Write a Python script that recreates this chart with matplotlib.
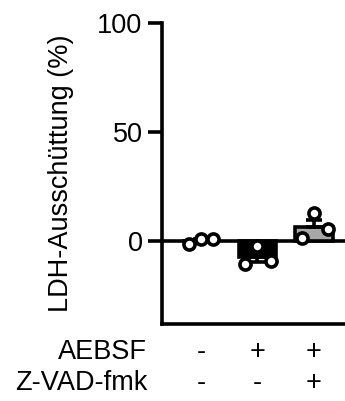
import numpy as np
import matplotlib.pyplot as plt

plt.rcParams['font.family'] = ['Liberation Sans', 'DejaVu Sans']

# data
groups = ['1', '2', '3']
aebsf = ['-', '+', '+']
zvad = ['-', '-', '+']
points = [
    [-1.4, 0.9, 0.9],
    [-10.5, -2.3, -9.0],
    [1.4, 12.7, 5.5],
]
jitter = [[-0.22, 0.0, 0.22], [-0.22, 0.0, 0.24], [-0.22, 0.0, 0.25]]
bar_colors = ['white', 'black', '#a8a8a8']

means = [np.mean(p) for p in points]
sems = [np.std(p, ddof=1) / np.sqrt(len(p)) for p in points]

fs = 19.5
lw = 2.6

fig = plt.figure(figsize=(3.45, 4.01), dpi=100)
ax = fig.add_axes([0.4696, 0.192, 0.5304, 0.7506])

x = np.arange(len(groups))
ax.bar(x, means, width=0.67, color=bar_colors, edgecolor='black', linewidth=lw, zorder=2)
for i in range(len(groups)):
    if means[i] >= 0:
        yerr = [[0], [sems[i]]]
    else:
        yerr = [[sems[i]], [0]]
    ax.errorbar(x[i], means[i], yerr=yerr, color='black', capsize=6,
                elinewidth=lw, capthick=lw, zorder=3)
    ax.plot(x[i] + np.array(jitter[i]), points[i], 'o', ms=8, mfc='white',
            mec='black', mew=2.6, zorder=4, clip_on=False)

ax.axhline(0, color='black', lw=lw, zorder=1)
ax.set_xlim(-0.69, 2.55)
ax.set_ylim(-38, 100)
ax.set_yticks([0, 50, 100])
ax.set_xticks([])
ax.spines['top'].set_visible(False)
ax.spines['right'].set_visible(False)
ax.spines['left'].set_linewidth(lw)
ax.spines['bottom'].set_linewidth(lw)
ax.tick_params(axis='y', width=lw, length=10, labelsize=fs, pad=4)
ax.set_ylabel('LDH-Ausschüttung (%)', fontsize=fs, labelpad=17)

# treatment rows below the axis
for i in range(len(groups)):
    ax.text(x[i], -51, aebsf[i], ha='center', va='center', fontsize=fs)
    ax.text(x[i], -65, zvad[i], ha='center', va='center', fontsize=fs)
ax.text(-0.955, -51, 'AEBSF', ha='right', va='center', fontsize=fs)
ax.text(-0.955, -65, 'Z-VAD-fmk', ha='right', va='center', fontsize=fs)

fig.savefig('out.png', dpi=100)
